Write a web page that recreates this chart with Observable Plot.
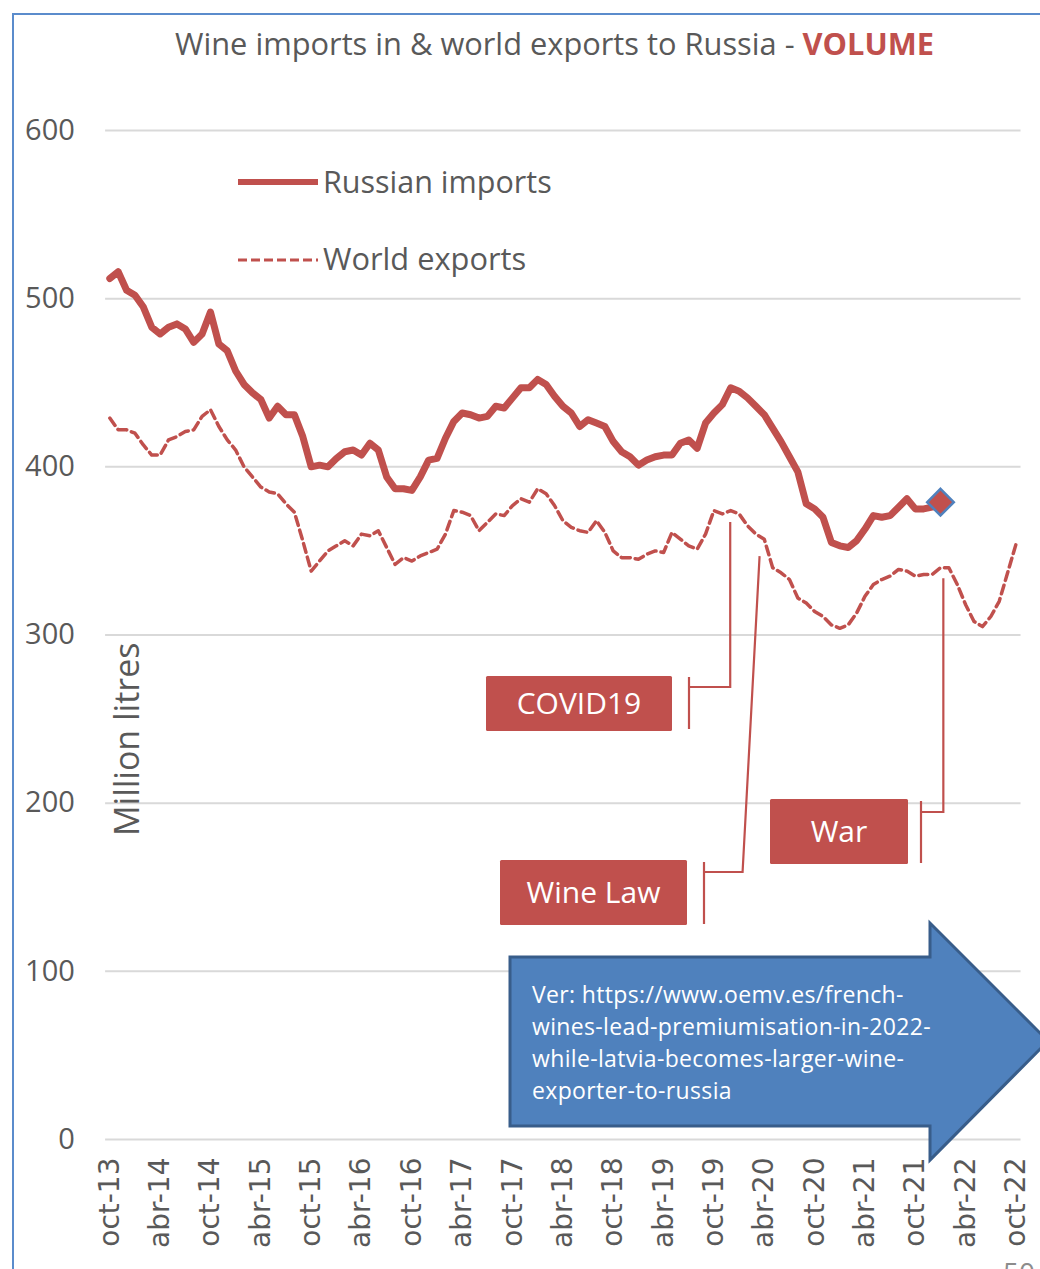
<!DOCTYPE html>
<html><head><meta charset="utf-8">
<script src="https://cdn.jsdelivr.net/npm/d3@7"></script>
<script src="https://cdn.jsdelivr.net/npm/@observablehq/plot@0.6"></script>
<style>
body{margin:0;background:#fff;}
#wrap{position:relative;width:1040px;height:1269px;overflow:hidden;font-family:"Open Sans",sans-serif;background:#fff;}
#border{position:absolute;left:12px;top:13px;width:1100px;height:1400px;border-left:2px solid #5b8ccc;border-top:2px solid #5b8ccc;}
#title{position:absolute;left:175px;top:20px;font-size:30.8px;line-height:46px;color:#595959;white-space:nowrap;}
#title b{color:#C0504D;}
#chart{position:absolute;left:0;top:100px;}
#overlay{position:absolute;left:0;top:0;}
</style></head><body><div id="wrap"><div id="border"></div><div id="title">Wine imports in &amp; world exports to Russia - <b>VOLUME</b></div><div id="chart"></div></div>
<script>
// Month index 0 = oct-13 ... 108 = oct-22
const tickLabels = ["oct-13","abr-14","oct-14","abr-15","oct-15","abr-16","oct-16","abr-17","oct-17","abr-18","oct-18","abr-19","oct-19","abr-20","oct-20","abr-21","oct-21","abr-22","oct-22"];
const yTicks = [0,100,200,300,400,500,600];

// Russian imports (million litres), oct-13 .. jan-22
const russianImports = [
512,516,505,502,495,483,479,483,485,482,474,479,
492,473,469,457,449,444,440,429,436,431,431,418,
400,401,400,405,409,410,407,414,410,394,387,387,
386,394,404,405,417,427,432,431,429,430,436,435,
441,447,447,452,449,442,436,432,424,428,426,424,
415,409,406,401,404,406,407,407,414,416,411,426,
432,437,447,445,441,436,431,423,415,406,397,378,
375,370,355,353,352,356,363,371,370,371,376,381,
375,375,376,379
];
// World exports to Russia (million litres), oct-13 .. oct-22
const worldExports = [
429,422,422,420,413,407,407,416,418,421,422,430,
434,424,416,410,400,394,388,385,384,378,373,356,
338,344,350,353,356,353,360,359,362,352,342,346,
344,347,349,351,360,374,373,371,362,367,372,371,
377,381,379,387,384,377,368,364,362,361,368,361,
350,346,346,345,348,350,349,361,357,353,351,360,
374,372,374,372,365,360,357,340,337,333,322,319,
314,311,306,304,306,313,323,330,333,335,339,338,
335,336,336,340,340,330,318,308,305,311,320,337,
354
];
const seriesNames = ["Russian imports","World exports"];
const events = [
  {label:"COVID19", month:74},
  {label:"Wine Law", month:77.5},
  {label:"War", month:99.4}
];
const noteLines = ["Ver: https://www.oemv.es/french-","wines-lead-premiumisation-in-2022-","while-latvia-becomes-larger-wine-","exporter-to-russia"];

const RED = "#C0504D";
const impRows = russianImports.map((v,i)=>({i, v}));
const expRows = worldExports.map((v,i)=>({i, v}));
const TOP = 100;

const plot = Plot.plot({
  width: 1040, height: 1169,
  marginLeft: 109.3, marginRight: 24.5, marginTop: 30, marginBottom: 130,
  x: {domain:[0,108]},
  y: {domain:[0,600]},
  style: {fontFamily:"Open Sans", background:"transparent", overflow:"visible"},
  marks: [
    Plot.ruleY(yTicks, {y:d=>d, x1:-0.5, x2:108.6, stroke:"#d9d9d9", strokeWidth:2}),
    Plot.axisY(yTicks, {tickSize:0, tickPadding:35, fontSize:29, fontFamily:"Open Sans", fill:"#595959", label:null}),
    Plot.axisX(d3.range(0,109,6), {tickSize:0, tickPadding:18, tickRotate:-90, tickFormat:i=>tickLabels[i/6], fontSize:28, fontFamily:"DejaVu Sans", fill:"#595959", label:null}),
    Plot.text(["Million litres"], {x:2.2, y:238, text:d=>d, rotate:-90, fontSize:34, fontFamily:"Open Sans", fill:"#595959"}),
    Plot.line(expRows, {x:"i", y:"v", stroke:RED, strokeWidth:3.5, strokeDasharray:"9,5"}),
    Plot.line(impRows, {x:"i", y:"v", stroke:RED, strokeWidth:7, strokeLinejoin:"round"}),
    Plot.dot([impRows[impRows.length-1]], {x:"i", y:"v", symbol:"diamond2", r:12, fill:RED, stroke:"#4F81BD", strokeWidth:2.5})
  ]
});
document.getElementById("chart").appendChild(plot);

const sx = plot.scale("x").apply;
const sy = v => plot.scale("y").apply(v) + TOP;
const expAt = m => { const a = Math.floor(m), b = Math.min(a+1, worldExports.length-1), t = m-a; return worldExports[a]*(1-t)+worldExports[b]*t; };

const svg = d3.select("#wrap").append("svg").attr("id","overlay").attr("width",1040).attr("height",1269)
  .style("font-family","Open Sans");

// legend
const lg = svg.append("g");
lg.append("line").attr("x1",238).attr("x2",318).attr("y1",182).attr("y2",182).attr("stroke",RED).attr("stroke-width",6);
lg.append("text").attr("x",323).attr("y",193).attr("font-size",30.5).attr("fill","#595959").text(seriesNames[0]);
lg.append("line").attr("x1",238).attr("x2",318).attr("y1",260).attr("y2",260).attr("stroke",RED).attr("stroke-width",3).attr("stroke-dasharray","9,4");
lg.append("text").attr("x",323).attr("y",270).attr("font-size",30.8).attr("fill","#595959").text(seriesNames[1]);

// annotation boxes
const boxes = [
  {ev:events[0], x:486, y:676, w:186, h:55, bx:689, by1:677, by2:729, hy:687, gap:12},
  {ev:events[1], x:500, y:860, w:187, h:65, bx:704, by1:862, by2:924, hy:872, gap:20},
  {ev:events[2], x:770, y:799, w:138, h:65, bx:921, by1:801, by2:863, hy:812, gap:11}
];
boxes.forEach(b => {
  svg.append("rect").attr("x",b.x).attr("y",b.y).attr("width",b.w).attr("height",b.h).attr("fill",RED).attr("rx",1.5);
  svg.append("text").attr("x",b.x+b.w/2).attr("y",b.y+b.h/2+10).attr("text-anchor","middle").attr("font-size",30).attr("fill","#fff").text(b.ev.label);
  const px = sx(b.ev.month), py = sy(expAt(b.ev.month)) + b.gap;
  const bottomX = b.ev.label === "Wine Law" ? px - 17 : px;
  svg.append("path").attr("d",`M${b.bx},${b.by1}V${b.by2}M${b.bx},${b.hy}H${bottomX}L${px},${py}`)
    .attr("fill","none").attr("stroke",RED).attr("stroke-width",2.2);
});

// blue arrow note
svg.append("path").attr("d","M510,957H930V923L1048,1041L930,1160V1126H510Z")
  .attr("fill","#4F81BD").attr("stroke","#385D8A").attr("stroke-width",3).attr("stroke-linejoin","miter");
noteLines.forEach((t,k)=>{
  svg.append("text").attr("x",532).attr("y",1003+k*32).attr("font-size",23).attr("letter-spacing","0.35px").attr("fill","#fff").text(t);
});

// page number (cut by the page edge, as in the reference)
svg.append("text").attr("x",1003).attr("y",1283).attr("font-size",28).attr("fill","#8c8c8c").text("50");
</script>
</body></html>
